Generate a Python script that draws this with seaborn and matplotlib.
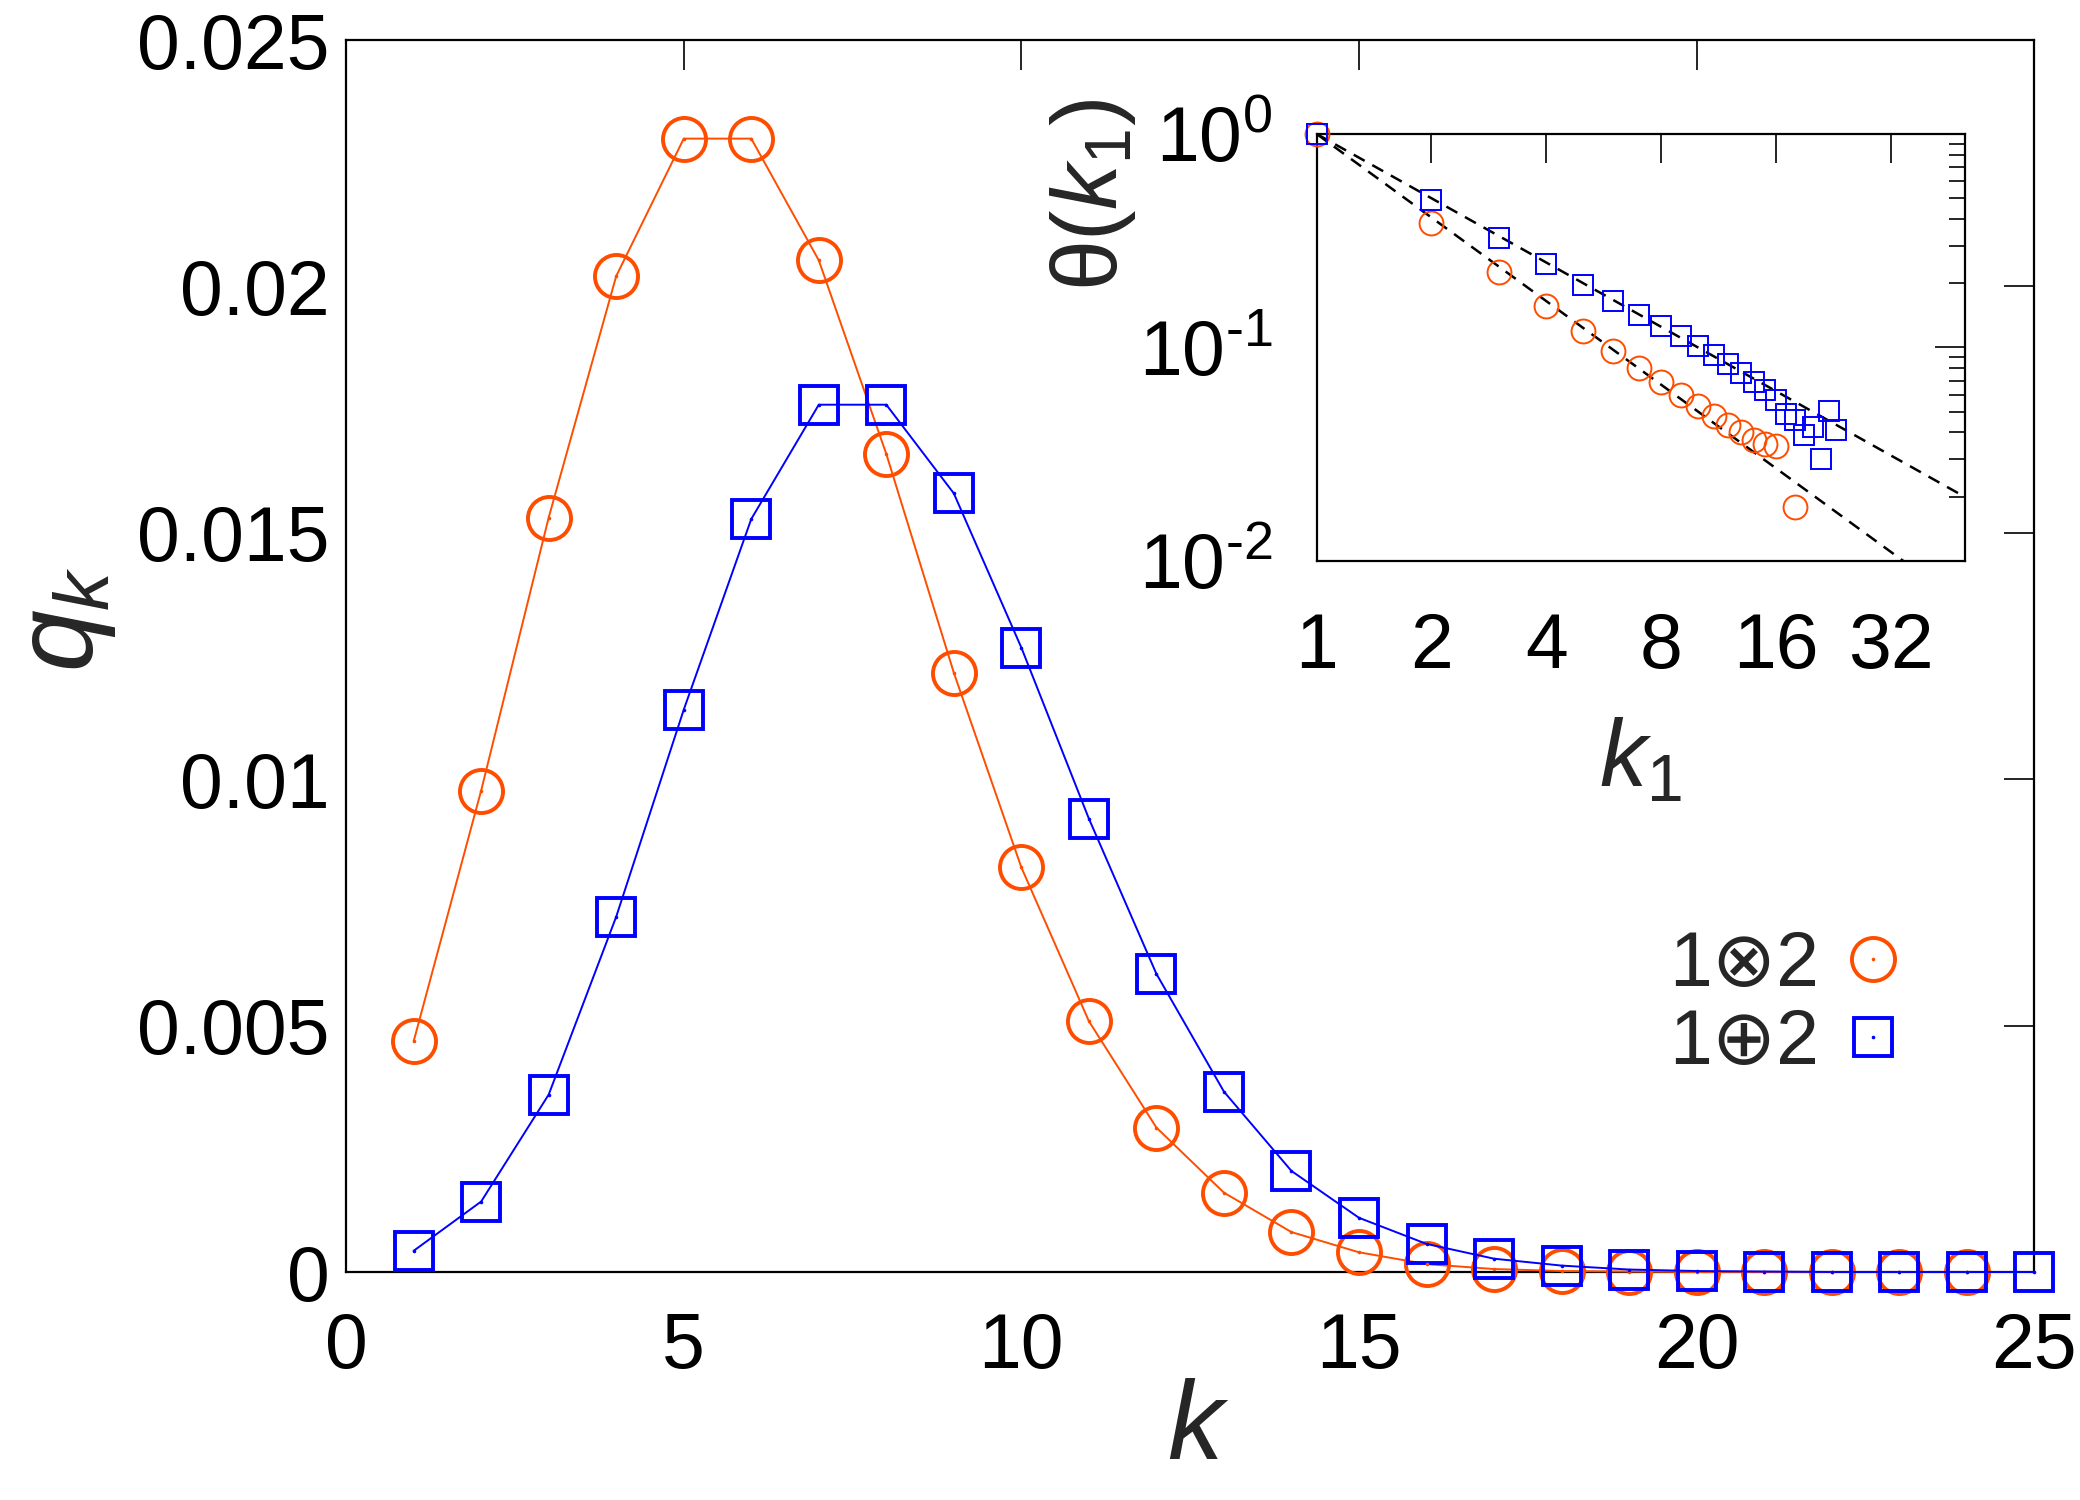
import numpy as np
import pandas as pd
import matplotlib
matplotlib.use("Agg")
import matplotlib.pyplot as plt
import seaborn as sns
from matplotlib.lines import Line2D
from matplotlib.ticker import FixedLocator, NullLocator, LogLocator

# main panel data: q_k for the two graph products
k_otimes = list(range(1, 25))
q_otimes = [0.00468, 0.00977, 0.01531, 0.02021, 0.0230, 0.0230, 0.02053, 0.0166,
            0.01216, 0.00821, 0.00509, 0.00293, 0.00161, 0.00081, 0.00040, 0.00016,
            0.00006, 0.00002, 0.00001, 0.0, 0.0, 0.0, 0.0, 0.0]
k_oplus = list(range(1, 26))
q_oplus = [0.00043, 0.00143, 0.0036, 0.00721, 0.01141, 0.01528, 0.0176, 0.0176,
           0.0158, 0.01267, 0.0092, 0.00605, 0.00366, 0.00205, 0.0011, 0.00057,
           0.00027, 0.00013, 0.00005, 0.00002, 0.00001, 0.0, 0.0, 0.0, 0.0]

# inset data: theta(k1)
k1_otimes = [1, 2, 3, 4, 5, 6, 7, 8, 9, 10, 11, 12, 13, 14, 15, 16, 18]
theta_otimes = [1.0, 0.383, 0.2255, 0.157, 0.1197, 0.0962, 0.0804, 0.0687, 0.060,
                0.0533, 0.0478, 0.0434, 0.040, 0.037, 0.0355, 0.0345, 0.0179]
k1_oplus = list(range(1, 24))
theta_oplus = [1.0, 0.492, 0.326, 0.2456, 0.197, 0.165, 0.1426, 0.126, 0.1134,
               0.102, 0.0924, 0.0839, 0.0762, 0.0689, 0.063, 0.057, 0.0489,
               0.0455, 0.039, 0.0422, 0.0299, 0.0503, 0.041]
fit_exponents = [1.3, 1.0]  # dashed power laws k1^-a

labels = ["1\u22972", "1\u22952"]
main_xticks = [0, 5, 10, 15, 20, 25]
main_yticks = [0, 0.005, 0.01, 0.015, 0.02, 0.025]
main_yticklabels = ["0", "0.005", "0.01", "0.015", "0.02", "0.025"]
inset_xticks = [1, 2, 4, 8, 16, 32]
inset_xticklabels = ["1", "2", "4", "8", "16", "32"]
inset_yticks = [0.01, 0.1, 1]
inset_yticklabels = ["$10^{\u20102}$", "$10^{\u20101}$", "$10^{0}$"]

orange = "#ff4d00"
blue = "#0000ff"

sns.set_style("white")
plt.rcParams['font.family'] = ['Liberation Sans', 'DejaVu Sans']
plt.rcParams['mathtext.fontset'] = 'custom'
plt.rcParams['mathtext.rm'] = 'Liberation Sans'
plt.rcParams['mathtext.it'] = 'Liberation Sans:italic'

fig = plt.figure(figsize=(10.4, 7.5), dpi=200)
ax = fig.add_axes([0.1664, 0.152, 0.8116, 0.8213])

# main curves
sns.lineplot(x=k_otimes, y=q_otimes, ax=ax, estimator=None, color=orange, linewidth=0.7,
             marker='o', markersize=15.5, markerfacecolor='none', markeredgecolor=orange,
             markeredgewidth=1.4, clip_on=False, zorder=3)
sns.lineplot(x=k_oplus, y=q_oplus, ax=ax, estimator=None, color=blue, linewidth=0.7,
             marker='s', markersize=13.5, markerfacecolor='none', markeredgecolor=blue,
             markeredgewidth=1.4, clip_on=False, zorder=3)
# small centre dots
sns.lineplot(x=k_otimes, y=q_otimes, ax=ax, estimator=None, linestyle='none', marker='o',
             markersize=1.3, markerfacecolor=orange, markeredgecolor=orange,
             markeredgewidth=0, clip_on=False, zorder=4)
sns.lineplot(x=k_oplus, y=q_oplus, ax=ax, estimator=None, linestyle='none', marker='o',
             markersize=1.3, markerfacecolor=blue, markeredgecolor=blue,
             markeredgewidth=0, clip_on=False, zorder=4)

ax.set_xlim(0, 25)
ax.set_ylim(0, 0.025)
ax.set_xticks(main_xticks)
ax.set_xticklabels([str(t) for t in main_xticks])
ax.set_yticks(main_yticks)
ax.set_yticklabels(main_yticklabels)
ax.tick_params(direction='in', top=True, right=True, length=10.8, width=0.6,
               labelsize=27.7, colors='black')
ax.tick_params(axis='x', pad=14)
ax.tick_params(axis='y', pad=6)
for s in ax.spines.values():
    s.set_linewidth(0.8)
    s.set_color('black')
ax.set_xlabel("$k$", fontsize=40, va='center')
ax.xaxis.set_label_coords(0.505, -0.128)
ax.set_ylabel("$q_k$", fontsize=40, va='center')
ax.yaxis.set_label_coords(-0.166, 0.53)

# legend, markers only, text on the left
h1 = (Line2D([], [], ls='none', marker='o', ms=15.5, mfc='none', mec=orange, mew=1.4),
      Line2D([], [], ls='none', marker='o', ms=1.3, mfc=orange, mec=orange, mew=0))
h2 = (Line2D([], [], ls='none', marker='s', ms=13.5, mfc='none', mec=blue, mew=1.4),
      Line2D([], [], ls='none', marker='o', ms=1.3, mfc=blue, mec=blue, mew=0))
ax.legend([h1, h2], labels, loc='center', bbox_to_anchor=(0.8556, 0.217), frameon=False,
          markerfirst=False, fontsize=27.7, handlelength=1.0, handletextpad=0.2,
          labelspacing=0.07, borderpad=0)

# inset
axin = fig.add_axes([0.633, 0.626, 0.3115, 0.2847])
axin.set_xscale('log', base=2)
axin.set_yscale('log')
kk = np.geomspace(1, 50, 200)
for a in fit_exponents:
    sns.lineplot(x=kk, y=kk ** (-a), ax=axin, estimator=None, color='black',
                 linewidth=0.9, linestyle=(0, (5, 3.5)), zorder=2)
sns.lineplot(x=k1_otimes, y=theta_otimes, ax=axin, estimator=None, linestyle='none',
             marker='o', markersize=8.6, markerfacecolor='none', markeredgecolor=orange,
             markeredgewidth=0.7, clip_on=False, zorder=3)
sns.lineplot(x=k1_oplus, y=theta_oplus, ax=axin, estimator=None, linestyle='none',
             marker='s', markersize=7.2, markerfacecolor='none', markeredgecolor=blue,
             markeredgewidth=0.7, clip_on=False, zorder=3)
axin.set_xlim(1, 50)
axin.set_ylim(0.01, 1)
axin.xaxis.set_major_locator(FixedLocator(inset_xticks))
axin.xaxis.set_minor_locator(NullLocator())
axin.set_xticklabels(inset_xticklabels)
axin.yaxis.set_major_locator(FixedLocator(inset_yticks))
axin.yaxis.set_minor_locator(LogLocator(base=10, subs=np.arange(2, 10)))
axin.set_yticklabels(inset_yticklabels)
axin.tick_params(which='both', direction='in', top=True, right=True, width=0.6,
                 labelsize=27.7, colors='black')
axin.tick_params(axis='x', which='major', length=10.4, pad=18)
axin.tick_params(axis='y', which='major', length=10.8, pad=16)
axin.tick_params(axis='y', which='minor', length=5.6, labelleft=False)
for s in axin.spines.values():
    s.set_linewidth(0.8)
    s.set_color('black')
axin.set_xlabel("$k_1$", fontsize=34, va='center')
axin.xaxis.set_label_coords(0.5, -0.47)
axin.set_ylabel("\u03b8($k_1$)", fontsize=33, va='center')
axin.yaxis.set_label_coords(-0.345, 0.857)

fig.savefig('out.png', dpi=200)
